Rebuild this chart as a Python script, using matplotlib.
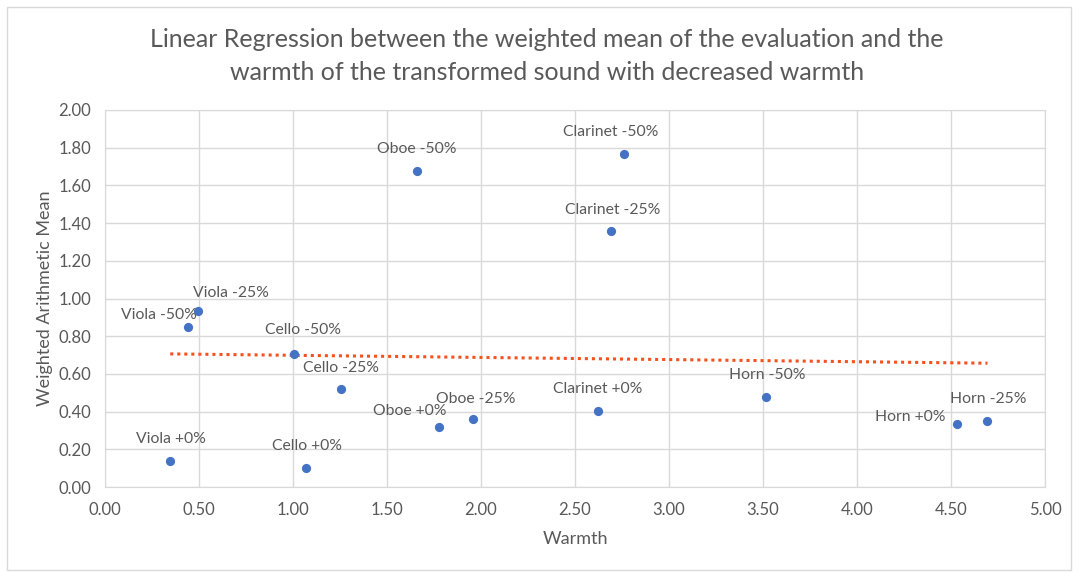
import numpy as np
import matplotlib
matplotlib.use("Agg")
import matplotlib.pyplot as plt
from matplotlib.patches import Rectangle
from matplotlib.ticker import FormatStrFormatter, MultipleLocator

labels = ["Viola +0%", "Viola -50%", "Viola -25%", "Cello -50%", "Cello -25%",
          "Cello +0%", "Oboe -50%", "Oboe +0%", "Oboe -25%", "Clarinet -50%",
          "Clarinet -25%", "Clarinet +0%", "Horn -50%", "Horn +0%", "Horn -25%"]
warmth = [0.347, 0.442, 0.496, 1.005, 1.256,
          1.068, 1.658, 1.778, 1.959, 2.761,
          2.693, 2.622, 3.515, 4.533, 4.694]
wmean = [0.140, 0.850, 0.932, 0.704, 0.521,
         0.102, 1.677, 0.319, 0.361, 1.768,
         1.360, 0.404, 0.476, 0.336, 0.351]

# label offsets in pixels (dx, dy) relative to the point
label_offsets = {
    "Viola +0%": (1, 22), "Viola -50%": (-29, 12), "Viola -25%": (33, 18),
    "Cello -50%": (9, 24), "Cello -25%": (0, 21), "Cello +0%": (1, 22),
    "Oboe -50%": (0, 22), "Oboe +0%": (-30, 16), "Oboe -25%": (2, 20),
    "Clarinet -50%": (-13, 22), "Clarinet -25%": (1, 21), "Clarinet +0%": (0, 22),
    "Horn -50%": (1, 22), "Horn +0%": (-47, 7), "Horn -25%": (1, 22),
}

FONT = "Lato"
TXT = "#595959"
GRID = "#D9D9D9"

fig = plt.figure(figsize=(10.78, 5.72), dpi=100)
fig.patches.append(Rectangle((7 / 1078, 2 / 572), 1064 / 1078, 563 / 572,
                             transform=fig.transFigure, fill=False,
                             edgecolor=GRID, linewidth=1))
ax = fig.add_axes([105 / 1078, 1 - 487 / 572, 940 / 1078, 377 / 572])

ax.scatter(warmth, wmean, s=44, color="#4472C4", zorder=3, linewidths=0)

x = np.array(warmth)
y = np.array(wmean)
slope, intercept = np.polyfit(x, y, 1)
xs = np.array([x.min(), x.max()])
ax.plot(xs, slope * xs + intercept, linestyle=(0, (1, 1.3)), color="#F4511E",
        linewidth=2.2, zorder=2)

for lab, xv, yv in zip(labels, warmth, wmean):
    dx, dy = label_offsets[lab]
    ax.annotate(lab, (xv, yv), xytext=(dx, dy), textcoords="offset pixels",
                ha="center", va="center", fontsize=11.3, color=TXT, family=FONT)

ax.set_xlim(0, 5)
ax.set_ylim(0, 2)
ax.xaxis.set_major_locator(MultipleLocator(0.5))
ax.yaxis.set_major_locator(MultipleLocator(0.2))
ax.xaxis.set_major_formatter(FormatStrFormatter("%.2f"))
ax.yaxis.set_major_formatter(FormatStrFormatter("%.2f"))
ax.grid(True, color=GRID, linewidth=1)
ax.set_axisbelow(True)
for s in ax.spines.values():
    s.set_color(GRID)
ax.tick_params(length=0, labelcolor=TXT, labelsize=12)
ax.tick_params(axis="x", pad=11)
ax.tick_params(axis="y", pad=10)
for t in ax.get_xticklabels() + ax.get_yticklabels():
    t.set_family(FONT)

ax.set_xlabel("Warmth", fontsize=13, color=TXT, family=FONT, labelpad=9)
ax.set_ylabel("Weighted Arithmetic Mean", fontsize=13, color=TXT, family=FONT,
              labelpad=4)

fig.text(547 / 1078, 1 - 56 / 572,
         "Linear Regression between the weighted mean of the evaluation and the\n"
         "warmth of the transformed sound with decreased warmth",
         ha="center", va="center", fontsize=18, color=TXT, family=FONT,
         linespacing=1.5)

fig.savefig("out.png", dpi=100, facecolor="white")
